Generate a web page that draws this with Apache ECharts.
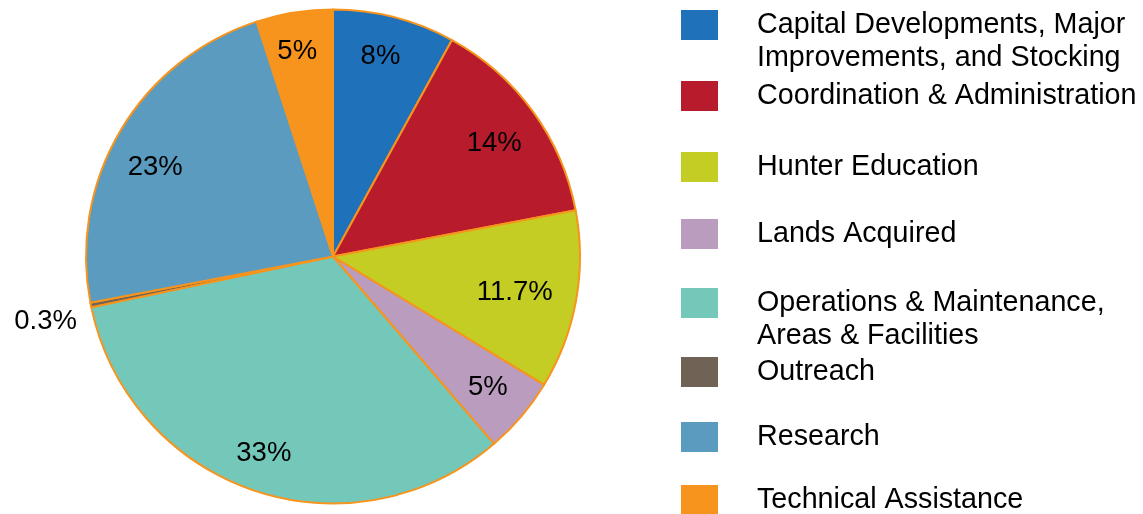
<!DOCTYPE html>
<html>
<head>
<meta charset="utf-8">
<script src="https://cdn.jsdelivr.net/npm/echarts@6/dist/echarts.min.js"></script>
<style>
  html, body { margin: 0; padding: 0; background: #fff; }
  #budget-pie-chart { width: 1143px; height: 514px; }
</style>
</head>
<body>
<div id="budget-pie-chart"></div>
<script>
const categories = [
  'Capital Developments, Major\nImprovements, and Stocking',
  'Coordination & Administration',
  'Hunter Education',
  'Lands Acquired',
  'Operations & Maintenance,\nAreas & Facilities',
  'Outreach',
  'Research',
  'Technical Assistance'
]
const shares = [8, 14, 11.7, 5, 33, 0.3, 23, 5]
const labels = ['8%', '14%', '11.7%', '5%', '33%', '0.3%', '23%', '5%']
const colors = ['#1F72B9', '#B81C2C', '#C3CD23', '#BA9CBF', '#74C8B9', '#706355', '#5A9BBF', '#F7941D']
// top edge of each legend swatch
const legendTops = [10, 81, 152, 219, 288, 357, 422, 485]

const myChart = echarts.init(document.getElementById('budget-pie-chart'))

const fontFamily = '"Liberation Sans", Arial, Helvetica, sans-serif'
const lineH = 33

const legends = categories.map(function(name, i) {
  const twoLine = name.indexOf('\n') >= 0
  return {
    show: true,
    orient: 'vertical',
    left: 681,
    top: twoLine ? legendTops[i] - 34.5 : legendTops[i] - 1.5,
    padding: 0,
    itemWidth: 37,
    itemHeight: 30,
    icon: 'rect',
    selectedMode: false,
    itemStyle: { borderWidth: 0 },
    data: [name],
    // a blank first line keeps the swatch level with the first text line
    formatter: twoLine ? function(n) { return '\u00a0\n' + n } : '{name}',
    textStyle: {
      color: '#000',
      fontSize: 28.7,
      fontFamily: fontFamily,
      lineHeight: lineH,
      padding: [0, 0, 0, 34]
    }
  }
})

const pieData = categories.map(function(name, i) {
  return {
    name: name,
    value: shares[i],
    itemStyle: { color: colors[i] }
  }
})

const labelData = categories.map(function(name, i) {
  const item = { name: name, value: shares[i], label: { formatter: labels[i] } }
  if (shares[i] < 1) {
    item.label.position = 'outside'
    item.label.distanceToLabelLine = 2
    item.label.offset = [0, 16]
    item.labelLine = { show: false, length: 4, length2: 8 }
  }
  return item
})
// some labels sit a little off the common radius in the original
labelData[0].label.offset = [-3, -3]
labelData[1].label.offset = [-3, 6]
labelData[2].label.offset = [-18, 0]
labelData[4].label.offset = [-4, 5]
labelData[6].label.offset = [-3, 14]
labelData[7].label.offset = [-4, -5]

const option = {
  color: colors,
  animation: false,
  legend: legends,
  series: [
    {
      name: 'share',
      type: 'pie',
      center: [333, 256.5],
      radius: [0, 247],
      startAngle: 90,
      clockwise: true,
      silent: true,
      label: { show: false },
      labelLine: { show: false },
      itemStyle: {
        borderColor: '#F7941D',
        borderWidth: 2
      },
      data: pieData
    },
    {
      name: 'labels',
      type: 'pie',
      center: [333, 256.5],
      radius: [153, 247],
      startAngle: 90,
      clockwise: true,
      silent: true,
      legendHoverLink: false,
      itemStyle: { color: 'rgba(0,0,0,0)' },
      label: {
        show: true,
        position: 'inside',
        color: '#000',
        fontSize: 27.5,
        fontFamily: fontFamily
      },
      labelLine: { show: false },
      data: labelData
    }
  ]
}

myChart.setOption(option)
window.addEventListener('resize', function() {
  myChart.resize()
})
</script>
</body>
</html>
